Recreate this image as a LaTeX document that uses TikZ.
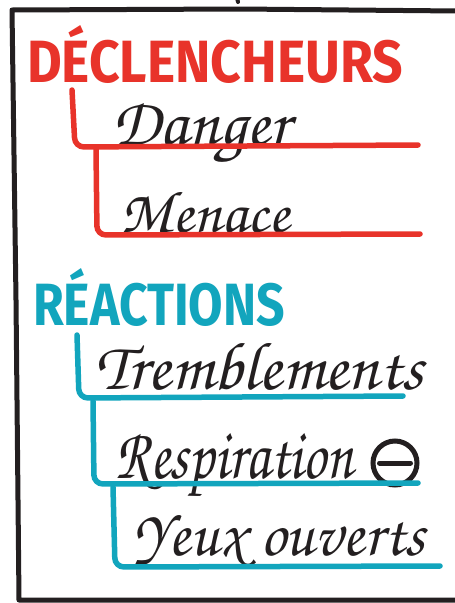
\documentclass[tikz,border=0pt]{standalone}
\usepackage{fontspec}
\usepackage{graphicx}
\newfontfamily\capsfont{Fira Sans}
\newfontfamily\handfont{TeX Gyre Chorus}
\definecolor{myred}{HTML}{E8332A}
\definecolor{myteal}{HTML}{12A5BD}
\definecolor{ink}{HTML}{231F20}
\newcommand{\handtext}[3]{\resizebox{#1}{#2}{\raisebox{0pt}[\height][0pt]{\handfont #3}}}
\tikzset{
  framestroke/.style={draw=ink, line width=5pt, line cap=round, line join=round},
  redline/.style={draw=myred, line width=5.5pt, line cap=round, rounded corners=9pt},
  tealline/.style={draw=myteal, line width=5.5pt, line cap=round, rounded corners=9pt},
  title/.style={anchor=north west, inner sep=0pt, outer sep=0pt},
  item/.style={anchor=north west, inner sep=0pt, outer sep=0pt, text=ink},
}
\begin{document}
\begin{tikzpicture}[x=1pt,y=-1pt]
\useasboundingbox (0,0) rectangle (455,603);
\fill[white] (0,0) rectangle (455,603);
% frame
\draw[framestroke] (458,11) -- (240,9) -- (12,10) -- (16,300) -- (19,600) -- (458,600);
\draw[ink, line width=4pt, line cap=round] (237,-2) -- (238,2);
% titles
\node[title, text=myred] (decl) at (27,25) {\resizebox{376pt}{57pt}{\capsfont\bfseries DÉCLENCHEURS}};
\node[title, text=myteal] (reac) at (33,268) {\resizebox{252pt}{57pt}{\capsfont\bfseries RÉACTIONS}};
% items
\node[item] (danger) at (112,103) {\handtext{178pt}{42pt}{Danger}};
\node[item] (menace) at (120,192) {\handtext{170pt}{40pt}{Menace}};
\node[item] (tremb) at (95,343) {\handtext{328pt}{46pt}{Tremblements}};
\node[item] (resp) at (115,433) {\handtext{238pt}{45pt}{Respiration}};
\node[item] (yeux) at (133,515) {\handtext{292pt}{40pt}{Yeux ouverts}};
\node[circle, draw=ink, line width=5pt, minimum size=44pt, inner sep=0pt] (minus) at (395,463) {};
\draw[ink, line width=5pt, line cap=round] ([xshift=9pt]minus.west) -- ([xshift=-9pt]minus.east);
% red brackets
\coordinate (r1a) at (72,90);
\coordinate (r1b) at (75,147);
\coordinate (r1c) at (418,145);
\coordinate (r2a) at (96,149);
\coordinate (r2b) at (97,235);
\coordinate (r2c) at (420,234);
\draw[redline] (r1a) -- (r1b) -- (r1c);
\draw[redline] (r2a) -- (r2b) -- (r2c);
% teal brackets
\coordinate (t1a) at (77,335);
\coordinate (t1b) at (79,398);
\coordinate (t1c) at (403,396);
\coordinate (t2a) at (93,401);
\coordinate (t2b) at (94,484);
\coordinate (t2c) at (418,483);
\coordinate (t3a) at (113,487);
\coordinate (t3b) at (115,567);
\coordinate (t3c) at (440,566);
\draw[tealline] (t1a) -- (t1b) -- (t1c);
\draw[tealline] (t2a) -- (t2b) -- (t2c);
\draw[tealline] (t3a) -- (t3b) -- (t3c);
\end{tikzpicture}
\end{document}
